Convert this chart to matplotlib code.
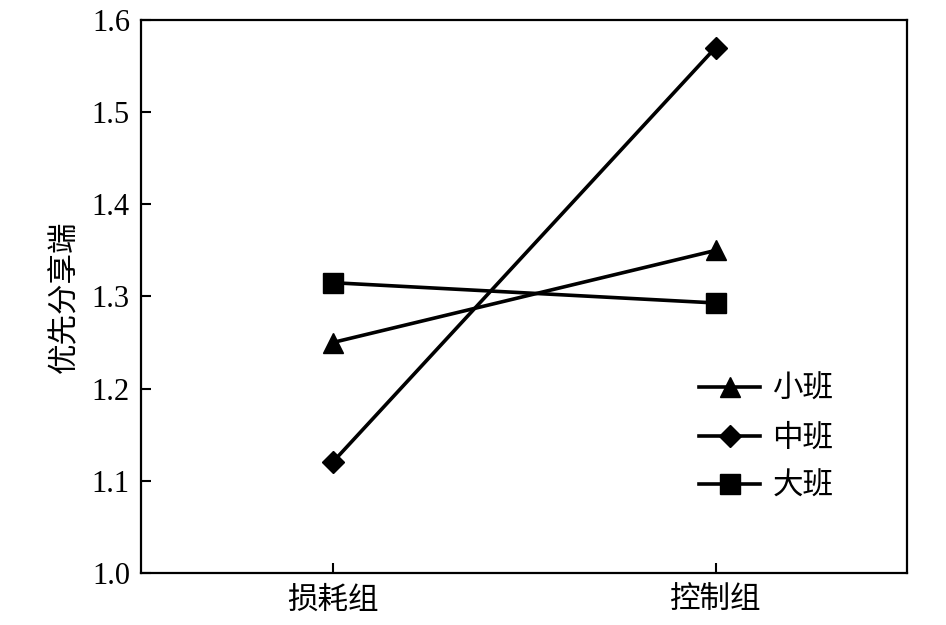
import matplotlib
matplotlib.use("Agg")
import matplotlib.pyplot as plt

plt.rcParams['font.family'] = ['Liberation Serif', 'Noto Sans CJK SC', 'DejaVu Sans']

groups = ["损耗组", "控制组"]
series_names = ["小班", "中班", "大班"]
small = [1.25, 1.35]
middle = [1.12, 1.57]
large = [1.315, 1.293]
yticks = [1.0, 1.1, 1.2, 1.3, 1.4, 1.5, 1.6]
ylabel = "优先分享端"

fig = plt.figure(figsize=(9.46, 6.25), dpi=100)
ax = fig.add_axes([141/946, 1-573/625, 766/946, 553/625])

x = list(range(len(groups)))
ax.plot(x, small, color='black', lw=2.6, marker='^', markersize=15, label=series_names[0])
ax.plot(x, middle, color='black', lw=2.6, marker='D', markersize=11, label=series_names[1])
ax.plot(x, large, color='black', lw=2.6, marker='s', markersize=14, label=series_names[2])

ax.set_xlim(-0.5, 1.5)
ax.set_ylim(1.0, 1.6)
ax.set_xticks(x)
ax.set_xticklabels(groups)
ax.set_yticks(yticks)
ax.set_yticklabels([f"{v:.1f}" for v in yticks])
ax.tick_params(direction='in', length=7, width=1.5, labelsize=22)
ax.tick_params(axis='x', pad=10)
ax.tick_params(axis='y', pad=8)
for s in ax.spines.values():
    s.set_linewidth(1.6)
ax.set_ylabel(ylabel, fontsize=22, labelpad=8)

fig.legend(loc='upper left', bbox_to_anchor=(699/946, 1-376/625), frameon=False,
           fontsize=22, handlelength=2.0, handletextpad=0.4, labelspacing=0.63,
           borderpad=0, borderaxespad=0)

fig.savefig("out.png", dpi=100)
